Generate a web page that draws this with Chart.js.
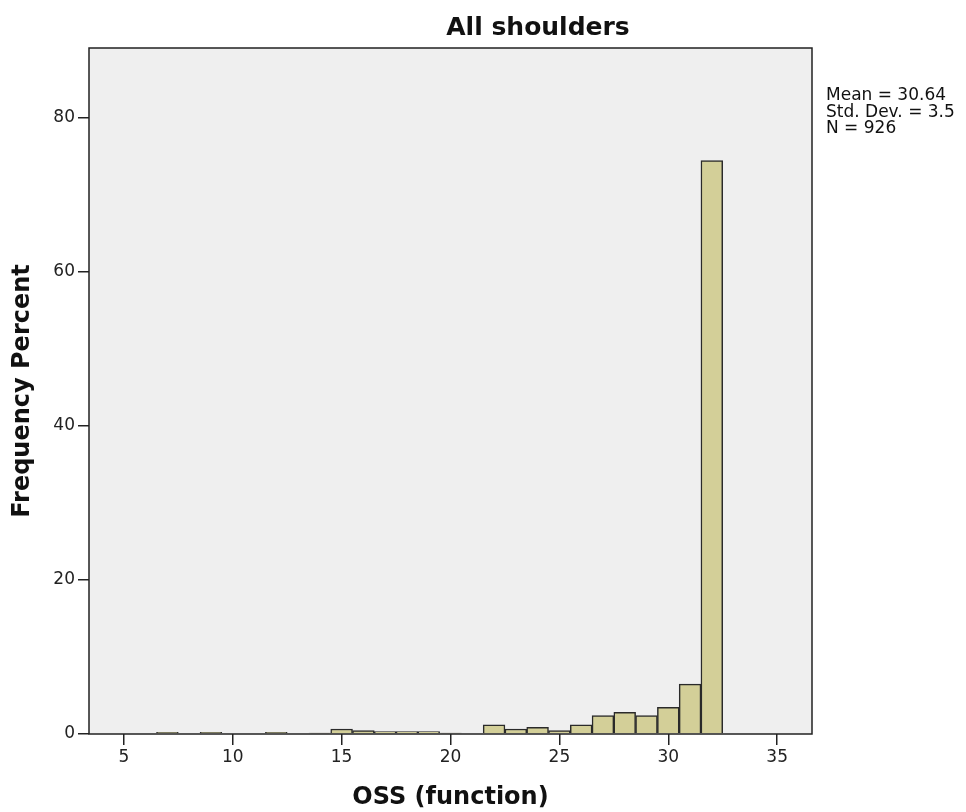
<!DOCTYPE html>
<html>
<head>
<meta charset="utf-8">
<script src="https://cdn.jsdelivr.net/npm/chart.js@4.4.0/dist/chart.umd.min.js"></script>
<style>
  html, body { margin: 0; padding: 0; background: #ffffff; }
  #wrap { width: 966px; height: 812px; }
</style>
</head>
<body>
<div id="wrap"><canvas id="histChart" width="966" height="812"></canvas></div>
<script>
// OSS (function) bins and percentage of shoulders in each
const scores = [7, 9, 12, 14, 15, 16, 17, 18, 19, 20, 22, 23, 24, 25, 26, 27, 28, 29, 30, 31, 32];
const percents = [0.22, 0.22, 0.22, 0.11, 0.65, 0.43, 0.32, 0.32, 0.32, 0.11, 1.19, 0.65, 0.86, 0.43, 1.19, 2.38, 2.81, 2.38, 3.46, 6.48, 74.4];
const xTicks = [5, 10, 15, 20, 25, 30, 35];
const yTicks = [0, 20, 40, 60, 80];
const chartTitle = 'All shoulders';
const statsLines = ['Mean = 30.64', 'Std. Dev. = 3.5', 'N = 926'];

const FONT = "'DejaVu Sans', sans-serif";

const plotBackground = {
    id: 'plotBackground',
    beforeDraw(chart) {
        const { ctx, chartArea: a } = chart;
        ctx.save();
        ctx.fillStyle = '#efefef';
        ctx.fillRect(a.left, a.top, a.right - a.left, a.bottom - a.top);
        ctx.restore();
    },
    afterDraw(chart) {
        const { ctx, chartArea: a } = chart;
        ctx.save();
        ctx.strokeStyle = '#222';
        ctx.lineWidth = 1.5;
        ctx.strokeRect(a.left, a.top, a.right - a.left, a.bottom - a.top);

        // title (sits right of the plot centre in the original)
        ctx.fillStyle = '#111';
        ctx.font = 'bold 25px ' + FONT;
        ctx.textAlign = 'center';
        ctx.textBaseline = 'middle';
        ctx.fillText(chartTitle, 538, 28);

        // stats text
        ctx.font = '17px ' + FONT;
        ctx.textAlign = 'left';
        statsLines.forEach((line, i) => {
            ctx.fillText(line, a.right + 14, 96 + i * 16.5);
        });
        ctx.restore();
    }
};

new Chart(document.getElementById('histChart'), {
    type: 'bar',
    data: {
        datasets: [{
            data: scores.map((s, i) => ({ x: s, y: percents[i] })),
            backgroundColor: '#d3cf98',
            borderColor: '#2a2a2a',
            borderWidth: 1.5,
            barPercentage: 1,
            categoryPercentage: 1
        }]
    },
    options: {
        responsive: false,
        animation: false,
        layout: { padding: { left: 0, right: 154, top: 48, bottom: 0 } },
        plugins: {
            legend: { display: false },
            tooltip: { enabled: false },
            title: { display: false }
        },
        scales: {
            x: {
                type: 'linear',
                min: 3.4,
                max: 36.6,
                offset: false,
                afterBuildTicks(scale) { scale.ticks = xTicks.map(v => ({ value: v })); },
                afterFit(scale) { scale.height = 78; },
                ticks: {
                    color: '#222',
                    font: { family: FONT, size: 17 },
                    padding: 2
                },
                grid: { offset: false, drawOnChartArea: false, color: '#222', tickLength: 11, lineWidth: 1.5 },
                border: { display: false },
                title: {
                    display: true,
                    text: 'OSS (function)',
                    color: '#111',
                    font: { family: FONT, size: 24, weight: 'bold' },
                    padding: { top: 4, bottom: 0 }
                }
            },
            y: {
                min: 0,
                max: 89,
                afterBuildTicks(scale) { scale.ticks = yTicks.map(v => ({ value: v })); },
                afterFit(scale) { scale.width = 89; },
                ticks: {
                    color: '#222',
                    font: { family: FONT, size: 17 },
                    padding: 3
                },
                grid: { drawOnChartArea: false, color: '#222', tickLength: 11, lineWidth: 1.5 },
                border: { display: false },
                title: {
                    display: true,
                    text: 'Frequency Percent',
                    color: '#111',
                    font: { family: FONT, size: 24, weight: 'bold' },
                    padding: { top: 8, bottom: 0 }
                }
            }
        }
    },
    plugins: [plotBackground]
});
</script>
</body>
</html>
